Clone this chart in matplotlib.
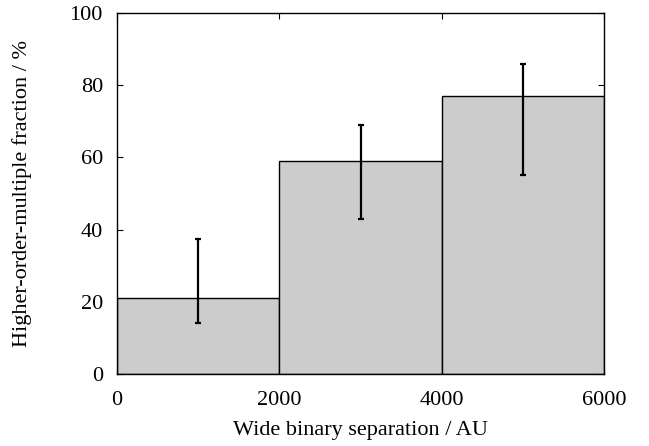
import matplotlib
matplotlib.use('Agg')
import matplotlib.pyplot as plt

# Data
bin_left = [0, 2000, 4000]
bin_width = [2000, 2000, 2000]
fraction = [21, 59, 77]
err_low = [14, 43, 55]
err_high = [37.5, 69, 86]

plt.rcParams['font.family'] = ['Liberation Serif', 'DejaVu Serif']
plt.rcParams['font.size'] = 16

fig = plt.figure(figsize=(6.49, 4.46), dpi=100)
ax = fig.add_axes([0.180, 0.1614, 0.751, 0.8095])

ax.bar(bin_left, fraction, width=bin_width, align='edge',
       color='#cccccc', edgecolor='black', linewidth=1.0, zorder=1)

centers = [l + w / 2 for l, w in zip(bin_left, bin_width)]
yerr = [[f - lo for f, lo in zip(fraction, err_low)],
        [hi - f for f, hi in zip(fraction, err_high)]]
ax.errorbar(centers, fraction, yerr=yerr, fmt='none', ecolor='black',
            elinewidth=1.6, capsize=2.5, capthick=1.6, zorder=3)

ax.set_xlim(0, 6000)
ax.set_ylim(0, 100)
ax.set_xticks([0, 2000, 4000, 6000])
ax.set_yticks([0, 20, 40, 60, 80, 100])
ax.tick_params(direction='in', top=True, right=True, length=4, width=0.8)
ax.tick_params(axis='y', pad=10)
ax.tick_params(axis='x', pad=12)
ax.set_axisbelow(True)
for s in ax.spines.values():
    s.set_linewidth(1.0)
    s.set_zorder(4)

ax.set_xlabel('Wide binary separation / AU')
ax.set_ylabel('Higher-order-multiple fraction / %')
ax.yaxis.set_label_coords(22 / 649, 0.1614 + 0.8095 / 2, transform=fig.transFigure)
ax.xaxis.set_label_coords(0.180 + 0.751 / 2, (446 - 431) / 446, transform=fig.transFigure)
ax.xaxis.label.set_va('center')
ax.yaxis.label.set_va('center')

fig.savefig('out.png', dpi=100)
